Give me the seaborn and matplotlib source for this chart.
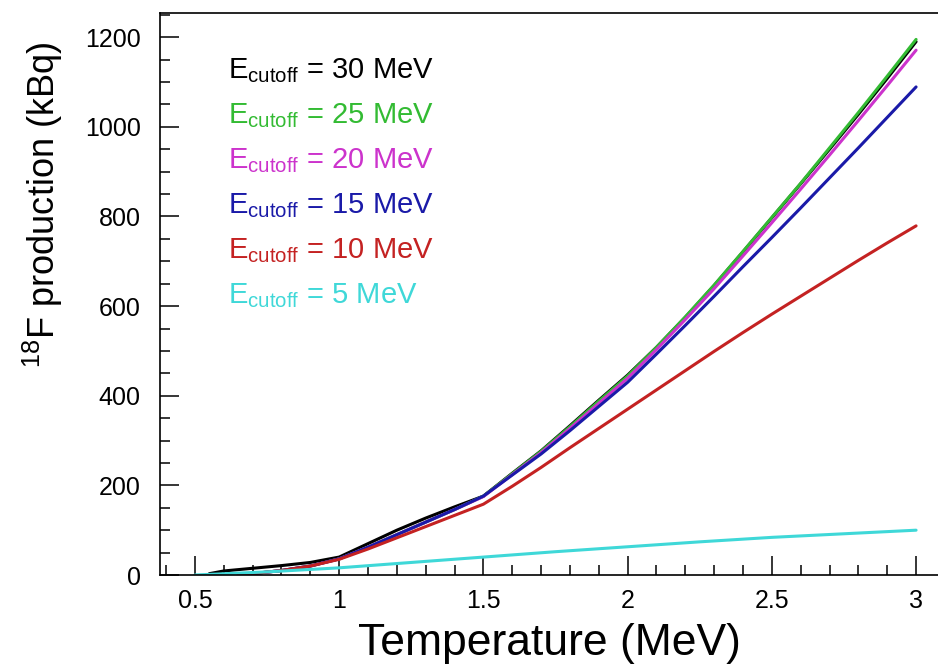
import numpy as np
import pandas as pd
import seaborn as sns

from matplotlib import pyplot as plt
from matplotlib.ticker import MultipleLocator


# temperature grids (MeV)
T_30 = [0.55, 0.6, 0.7, 0.8, 0.9, 1.0, 1.1, 1.2, 1.3, 1.4, 1.5, 1.6, 1.7, 1.8, 1.9, 2.0,
        2.1, 2.2, 2.3, 2.4, 2.5, 2.6, 2.7, 2.8, 2.9, 3.0]
T_MID = [0.65, 0.7, 0.8, 0.9, 1.0, 1.1, 1.2, 1.3, 1.4, 1.5, 1.6, 1.7, 1.8, 1.9, 2.0,
         2.1, 2.2, 2.3, 2.4, 2.5, 2.6, 2.7, 2.8, 2.9, 3.0]
T_5 = [0.5, 0.75, 1.0, 1.25, 1.5, 1.75, 2.0, 2.25, 2.5, 2.75, 3.0]

# 18F production (kBq) per cutoff energy
F_30 = [3, 9, 15, 21, 28, 40, 70, 100, 127, 152, 176, 227, 277, 333, 390, 446,
        508, 575, 646, 721, 797, 873, 950, 1028, 1108, 1190]
F_25 = [0, 3, 10, 20, 36, 62, 90, 118, 146, 176, 226, 276, 331, 388, 444,
        508, 576, 647, 722, 798, 874, 953, 1032, 1113, 1195]
F_20 = [0, 3, 10, 20, 36, 62, 90, 118, 146, 175, 224, 273, 327, 383, 439,
        503, 570, 639, 712, 786, 861, 937, 1014, 1092, 1171]
F_15 = [0, 3, 10, 20, 36, 62, 90, 118, 146, 176, 223, 270, 322, 376, 430,
        493, 557, 622, 688, 753, 819, 886, 953, 1021, 1089]
F_10 = [0, 3, 10, 20, 35, 58, 83, 108, 133, 158, 198, 240, 284, 327, 370,
        413, 456, 499, 541, 582, 622, 662, 702, 741, 779]
F_5 = [0, 7, 16, 28, 40, 52, 63, 74, 84, 92, 100]

CUTOFFS = ['30', '25', '20', '15', '10', '5']
COLORS = ['#000000', '#33bb33', '#cc33cc', '#1a1aa8', '#c42222', '#3fd8d8']


def main():

    sns.set_style('ticks', {'axes.edgecolor': 'black', 'text.color': 'black',
                            'axes.labelcolor': 'black', 'xtick.color': 'black',
                            'ytick.color': 'black'})
    plt.rcParams['font.family'] = ['Liberation Sans', 'DejaVu Sans']
    plt.rcParams['mathtext.fontset'] = 'custom'
    plt.rcParams['mathtext.rm'] = 'Liberation Sans'
    plt.rcParams['mathtext.it'] = 'Liberation Sans:italic'

    series = [(T_30, F_30), (T_MID, F_25), (T_MID, F_20), (T_MID, F_15), (T_MID, F_10), (T_5, F_5)]
    frames = []
    for cut, (t, f) in zip(CUTOFFS, series):
        frames.append(pd.DataFrame({'T': t, 'F': f, 'cutoff': cut}))
    df = pd.concat(frames, ignore_index=True)

    fig = plt.figure(figsize=(9.38, 6.69), dpi=100)
    ax = fig.add_axes([0.1706, 0.1405, 0.8294, 0.8401])

    sns.lineplot(data=df, x='T', y='F', hue='cutoff', hue_order=CUTOFFS,
                 palette=dict(zip(CUTOFFS, COLORS)), linewidth=2.2,
                 legend=False, estimator=None, sort=True, ax=ax)

    ax.set_xlim(0.379, 3.076)
    ax.set_ylim(0, 1254)
    ax.xaxis.set_major_locator(MultipleLocator(0.5))
    ax.xaxis.set_minor_locator(MultipleLocator(0.1))
    ax.yaxis.set_major_locator(MultipleLocator(200))
    ax.yaxis.set_minor_locator(MultipleLocator(50))
    ax.set_xticks([0.5, 1, 1.5, 2, 2.5, 3])
    ax.set_xticklabels(['0.5', '1', '1.5', '2', '2.5', '3'])

    ax.tick_params(which='major', direction='in', length=14, width=1.1, labelsize=18,
                   colors='black')
    ax.tick_params(which='minor', direction='in', length=7, width=1.1, colors='black')
    ax.tick_params(axis='y', which='major', pad=14)
    ax.tick_params(axis='x', which='major', pad=10)
    ax.spines['right'].set_visible(False)
    for s in ['left', 'bottom', 'top']:
        ax.spines[s].set_linewidth(1.2)
        ax.spines[s].set_color('black')

    ax.set_xlabel('Temperature (MeV)', fontsize=32, va='center', color='black')
    ax.xaxis.set_label_coords(0.501, -0.121)
    ax.set_ylabel(r'$^{18}$F production (kBq)', fontsize=26, va='center', color='black')
    ax.yaxis.set_label_coords(-0.150, 0.658)

    # legend drawn as coloured text, one line per cutoff
    for i, (cut, col) in enumerate(zip(CUTOFFS, COLORS)):
        ax.text(0.0874, 0.8843 - i * 0.0801, r'E$_{\mathrm{cutoff}}$ = ' + cut + ' MeV',
                transform=ax.transAxes, color=col, fontsize=21, va='baseline', ha='left')

    fig.savefig('out.png', dpi=100)

    return


if __name__ == '__main__':
    main()
